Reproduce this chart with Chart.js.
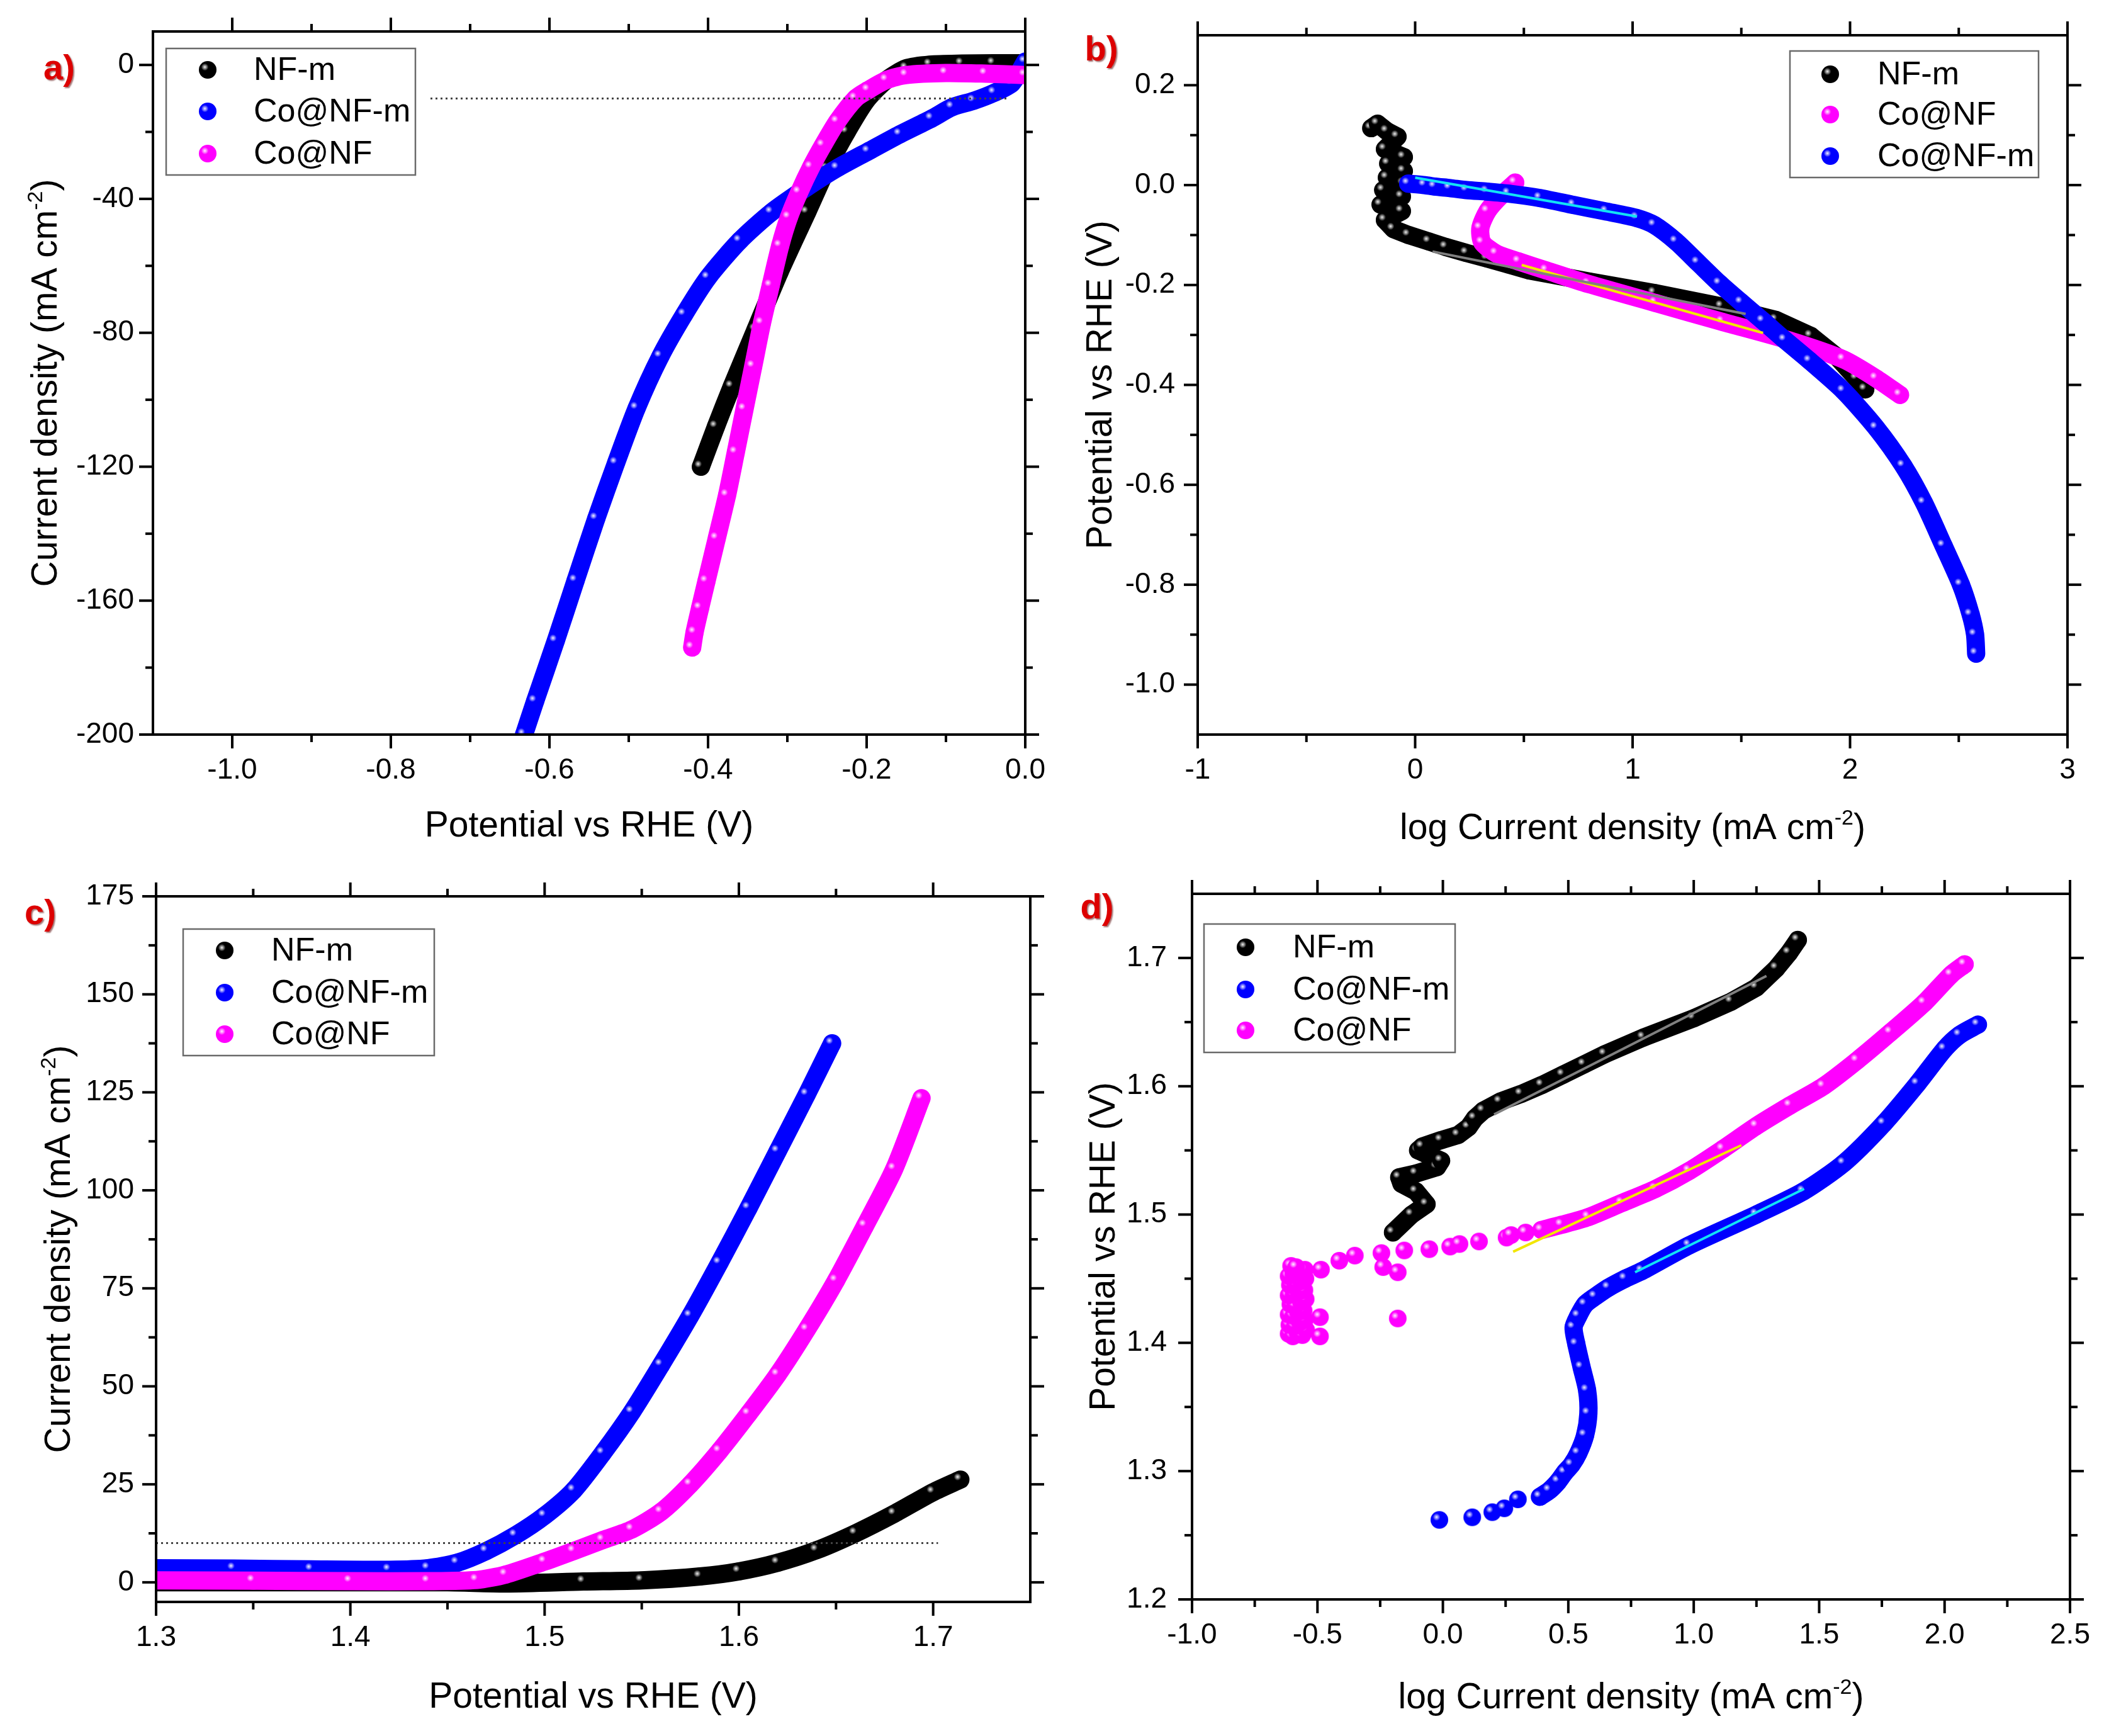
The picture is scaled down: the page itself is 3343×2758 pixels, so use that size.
<!DOCTYPE html>
<html><head><meta charset="utf-8">
<script src="https://cdn.jsdelivr.net/npm/chart.js@4.4.1/dist/chart.umd.min.js"></script>
<style>
html,body{margin:0;padding:0;background:#fff;}
#wrap{position:relative;width:3343px;height:2758px;background:#fff;overflow:hidden;}
canvas{position:absolute;}
</style></head>
<body><div id="wrap">
<canvas id="ca" width="1671" height="1379" style="left:0;top:0"></canvas>
<canvas id="cb" width="1672" height="1379" style="left:1671px;top:0"></canvas>
<canvas id="cc" width="1671" height="1379" style="left:0;top:1379px"></canvas>
<canvas id="cd" width="1672" height="1379" style="left:1671px;top:1379px"></canvas>
</div>
<script>
// ---------------- DATA ----------------
const seriesNames = ['NF-m', 'Co@NF-m', 'Co@NF'];

// Panel a) HER polarization: [potential V vs RHE, current density mA cm-2]
const aNFm = [[0.00,0.5],[-0.04,0.5],[-0.08,0.4],[-0.12,0.1],[-0.15,-1.0],[-0.175,-4.5],[-0.20,-10.5],[-0.225,-20],[-0.25,-31],[-0.275,-44],[-0.31,-62],[-0.34,-79],[-0.37,-96],[-0.39,-108],[-0.409,-120]];
const aCoNFm = [[0.0,1.0],[-0.017,-5.5],[-0.039,-8.3],[-0.065,-10.7],[-0.092,-12.6],[-0.118,-16],[-0.158,-20.7],[-0.198,-25.8],[-0.237,-30.8],[-0.275,-36.5],[-0.32,-44],[-0.36,-52.5],[-0.40,-63.5],[-0.43,-74.5],[-0.46,-87],[-0.49,-102.5],[-0.516,-118.9],[-0.541,-135.5],[-0.567,-154],[-0.592,-172],[-0.618,-190],[-0.632,-200]];
const aCoNF = [[0.00,-3.0],[-0.05,-2.6],[-0.10,-2.4],[-0.15,-3.0],[-0.175,-4.5],[-0.198,-7.5],[-0.214,-10.0],[-0.237,-16.9],[-0.255,-24],[-0.270,-30.5],[-0.285,-38],[-0.298,-45.5],[-0.309,-54],[-0.321,-65.9],[-0.332,-77.1],[-0.343,-90.0],[-0.354,-102.8],[-0.365,-115.7],[-0.376,-128.5],[-0.389,-141.4],[-0.402,-154.2],[-0.410,-162.2],[-0.417,-169.5],[-0.420,-174]];
const aRef10 = [[-0.75,-10],[-0.02,-10]];
const aXTicks = [-1.0,-0.8,-0.6,-0.4,-0.2,0.0];
const aXLabels = ['-1.0','-0.8','-0.6','-0.4','-0.2','0.0'];
const aXMinor = [-0.9,-0.7,-0.5,-0.3,-0.1];
const aYTicks = [-200,-160,-120,-80,-40,0];
const aYLabels = ['-200','-160','-120','-80','-40','0'];
const aYMinor = [-180,-140,-100,-60,-20];

// Panel b) HER Tafel: [log current density, potential V]
const bNFm = [[-0.202,0.114],[-0.173,0.123],[-0.13,0.108],[-0.081,0.097],[-0.139,0.072],[-0.052,0.056],[-0.124,0.043],[-0.052,0.028],[-0.130,0.015],[-0.052,0.003],[-0.147,-0.010],[-0.061,-0.023],[-0.159,-0.039],[-0.061,-0.052],[-0.139,-0.070],[-0.10,-0.088],[-0.03,-0.100],[0.064,-0.113],[0.142,-0.124],[0.237,-0.136],[0.332,-0.147],[0.43,-0.159],[0.526,-0.171],[0.80,-0.193],[1.10,-0.216],[1.41,-0.243],[1.66,-0.270],[1.82,-0.302],[1.94,-0.344],[2.03,-0.387],[2.07,-0.409]];
const bCoNF = [[0.46,0.005],[0.39,-0.023],[0.333,-0.052],[0.30,-0.086],[0.309,-0.115],[0.373,-0.137],[0.477,-0.153],[0.604,-0.171],[0.797,-0.198],[1.105,-0.236],[1.414,-0.274],[1.72,-0.311],[1.97,-0.349],[2.12,-0.387],[2.23,-0.42]];
const bCoNFm = [[-0.032,0.003],[0.044,0.0],[0.09,-0.003],[0.16,-0.006],[0.237,-0.01],[0.33,-0.013],[0.43,-0.017],[0.575,-0.026],[0.73,-0.040],[0.88,-0.053],[1.02,-0.066],[1.10,-0.080],[1.20,-0.113],[1.30,-0.155],[1.40,-0.197],[1.50,-0.235],[1.60,-0.272],[1.70,-0.31],[1.815,-0.352],[1.97,-0.412],[2.12,-0.486],[2.245,-0.562],[2.34,-0.636],[2.43,-0.722],[2.51,-0.80],[2.555,-0.86],[2.575,-0.90],[2.58,-0.938]];
const bFitNFm = [[0.08,-0.133],[1.52,-0.258]];
const bFitCoNF = [[0.49,-0.16],[1.60,-0.296]];
const bFitCoNFm = [[0.0,0.015],[1.02,-0.063]];
const bXTicks = [-1,0,1,2,3];
const bXLabels = ['-1','0','1','2','3'];
const bXMinor = [-0.5,0.5,1.5,2.5];
const bYTicks = [-1.0,-0.8,-0.6,-0.4,-0.2,0.0,0.2];
const bYLabels = ['-1.0','-0.8','-0.6','-0.4','-0.2','0.0','0.2'];
const bYMinor = [-0.9,-0.7,-0.5,-0.3,-0.1,0.1];

// Panel c) OER polarization: [potential V vs RHE, current density mA cm-2]
const cNFm = [[1.30,0.0],[1.45,0.0],[1.48,-0.3],[1.52,0.2],[1.55,0.5],[1.58,1.5],[1.60,2.8],[1.62,5.0],[1.64,8.2],[1.66,12.5],[1.68,17.5],[1.70,23.0],[1.714,26.2]];
const cCoNFm = [[1.30,3.6],[1.34,3.5],[1.38,3.3],[1.42,3.2],[1.44,3.6],[1.455,5.0],[1.47,8.0],[1.485,12.0],[1.50,17.0],[1.515,23.5],[1.53,33],[1.545,43.5],[1.56,55.5],[1.575,68],[1.59,81.5],[1.605,95.5],[1.62,110],[1.635,124.5],[1.648,137.5]];
const cCoNF = [[1.30,0.5],[1.35,0.4],[1.40,0.3],[1.44,0.3],[1.465,0.6],[1.48,2.0],[1.50,5.3],[1.515,8.0],[1.53,10.8],[1.545,13.5],[1.56,18.0],[1.575,25.0],[1.59,33.5],[1.605,43.0],[1.62,53.0],[1.635,64.5],[1.65,77.0],[1.665,91.0],[1.68,105.5],[1.694,123.5]];
const cRef10 = [[1.30,10],[1.7025,10]];
const cXTicks = [1.3,1.4,1.5,1.6,1.7];
const cXLabels = ['1.3','1.4','1.5','1.6','1.7'];
const cXMinor = [1.35,1.45,1.55,1.65];
const cYTicks = [0,25,50,75,100,125,150,175];
const cYLabels = ['0','25','50','75','100','125','150','175'];
const cYMinor = [12.5,37.5,62.5,87.5,112.5,137.5,162.5];

// Panel d) OER Tafel: [log current density, potential V]
const dNFm = [[-0.199,1.486],[-0.124,1.500],[-0.065,1.508],[-0.107,1.518],[-0.165,1.524],[-0.174,1.529],[-0.107,1.532],[-0.023,1.537],[-0.007,1.542],[-0.065,1.547],[-0.099,1.550],[-0.082,1.553],[-0.007,1.558],[0.061,1.562],[0.102,1.568],[0.127,1.575],[0.161,1.581],[0.228,1.588],[0.312,1.594],[0.395,1.601],[0.479,1.609],[0.563,1.617],[0.646,1.625],[0.80,1.638],[1.00,1.653],[1.15,1.666],[1.25,1.677],[1.33,1.692],[1.38,1.704],[1.415,1.714]];
const dCoNFmLow = [[-0.014,1.262],[0.117,1.264],[0.197,1.268],[0.245,1.271],[0.299,1.278],[0.387,1.280]];
const dCoNFm = [[0.387,1.280],[0.425,1.285],[0.46,1.292],[0.486,1.299],[0.513,1.305],[0.54,1.314],[0.567,1.328],[0.58,1.345],[0.575,1.363],[0.553,1.381],[0.532,1.399],[0.521,1.412],[0.54,1.421],[0.567,1.43],[0.607,1.436],[0.66,1.443],[0.727,1.45],[0.794,1.456],[0.982,1.476],[1.25,1.50],[1.437,1.518],[1.598,1.54],[1.758,1.571],[1.892,1.602],[2.0,1.629],[2.06,1.640],[2.133,1.648]];
const dCoNFLow = [[-0.615,1.407],[-0.598,1.405],[-0.58,1.408],[-0.56,1.406],[-0.545,1.41],[-0.612,1.414],[-0.59,1.413],[-0.57,1.416],[-0.55,1.418],[-0.615,1.422],[-0.596,1.421],[-0.578,1.424],[-0.555,1.425],[-0.608,1.43],[-0.588,1.429],[-0.566,1.432],[-0.547,1.434],[-0.615,1.437],[-0.595,1.438],[-0.575,1.44],[-0.552,1.441],[-0.61,1.445],[-0.588,1.446],[-0.565,1.448],[-0.548,1.45],[-0.615,1.452],[-0.596,1.454],[-0.572,1.455],[-0.55,1.457],[-0.605,1.46],[-0.585,1.459],[-0.486,1.457],[-0.49,1.420],[-0.49,1.405],[-0.413,1.464],[-0.351,1.468],[-0.245,1.470],[-0.238,1.459],[-0.18,1.455],[-0.18,1.419],[-0.154,1.472],[-0.054,1.473],[0.029,1.475],[0.066,1.477],[0.144,1.479],[0.254,1.482],[0.272,1.484],[0.33,1.486]];
const dCoNF = [[0.393,1.488],[0.473,1.492],[0.58,1.498],[0.714,1.509],[0.848,1.52],[0.982,1.534],[1.116,1.551],[1.25,1.569],[1.384,1.585],[1.517,1.60],[1.651,1.62],[1.785,1.642],[1.919,1.665],[2.026,1.687],[2.08,1.695]];
const dFitNFm = [[0.204,1.578],[1.29,1.686]];
const dFitCoNF = [[0.28,1.471],[1.19,1.554]];
const dFitCoNFm = [[0.766,1.455],[1.44,1.52]];
const dXTicks = [-1.0,-0.5,0.0,0.5,1.0,1.5,2.0,2.5];
const dXLabels = ['-1.0','-0.5','0.0','0.5','1.0','1.5','2.0','2.5'];
const dXMinor = [-0.75,-0.25,0.25,0.75,1.25,1.75,2.25];
const dYTicks = [1.2,1.3,1.4,1.5,1.6,1.7];
const dYLabels = ['1.2','1.3','1.4','1.5','1.6','1.7'];
const dYMinor = [1.25,1.35,1.45,1.55,1.65];

// titles
const titlePotential = [{t:'Potential vs RHE (V)'}];
const titleCurrent = [{t:'Current density (mA cm'},{t:'-2',sup:true},{t:')'}];
const titleLogCurrent = [{t:'log Current density (mA cm'},{t:'-2',sup:true},{t:')'}];

// ---------------- STYLE / HELPERS ----------------
const FONT = "'Liberation Sans', Arial, Helvetica, sans-serif";
const COL = {k:'#000000', b:'#0000ff', m:'#ff00ff'};
const R = 14;

function ball(color, r) {
  const c = document.createElement('canvas');
  const s = Math.ceil(r*2 + 2);
  c.width = s; c.height = s;
  const g = c.getContext('2d');
  const cx = s/2, cy = s/2;
  g.beginPath(); g.arc(cx, cy, r, 0, Math.PI*2); g.fillStyle = color; g.fill();
  const hx = cx - r*0.32, hy = cy - r*0.32;
  const grd = g.createRadialGradient(hx, hy, 0, hx, hy, r*0.42);
  grd.addColorStop(0, 'rgba(255,255,255,0.95)');
  grd.addColorStop(0.55, 'rgba(255,255,255,0.45)');
  grd.addColorStop(1, 'rgba(255,255,255,0)');
  g.fillStyle = grd; g.beginPath(); g.arc(cx, cy, r, 0, Math.PI*2); g.fill();
  return c;
}
const BALL = {k: ball(COL.k, R), b: ball(COL.b, R), m: ball(COL.m, R)};

function pts(a) { return a.map(p => ({x: p[0], y: p[1]})); }
function band(label, arr, key, order, tension) {
  return {label, data: pts(arr), showLine: true, borderColor: COL[key], backgroundColor: COL[key],
    borderWidth: 2*R + 1, borderJoinStyle: 'round', borderCapStyle: 'round', tension: tension,
    pointStyle: BALL[key], pointRadius: R, pointHoverRadius: R, pointBorderWidth: 0, order};
}
function dots(label, arr, key, order) {
  return {label, data: pts(arr), showLine: false, backgroundColor: COL[key], borderColor: COL[key],
    pointStyle: BALL[key], pointRadius: R, pointHoverRadius: R, pointBorderWidth: 0, order};
}
function seg(label, arr, color, width, dash, order) {
  return {label, data: pts(arr), showLine: true, borderColor: color, backgroundColor: color,
    borderWidth: width, borderDash: dash, pointRadius: 0, pointHoverRadius: 0, tension: 0, order};
}

function drawRich(ctx, parts, cx, cy, rot, size) {
  ctx.save();
  ctx.translate(cx, cy); ctx.rotate(rot);
  ctx.textBaseline = 'alphabetic'; ctx.textAlign = 'left';
  const sup = Math.round(size*0.6);
  let w = 0;
  const ws = parts.map(p => { ctx.font = (p.sup ? sup : size) + 'px ' + FONT; const m = ctx.measureText(p.t).width; w += m; return m; });
  let x = -w/2;
  const base = size*0.36;
  parts.forEach((p, i) => {
    ctx.font = (p.sup ? sup : size) + 'px ' + FONT;
    ctx.fillText(p.t, x, p.sup ? base - size*0.40 : base);
    x += ws[i];
  });
  ctx.restore();
}

function makeDecor(P) {
  return {
    id: 'decor' + P.id,
    afterDraw(chart) {
      const ctx = chart.ctx, a = chart.chartArea, xs = chart.scales.x, ys = chart.scales.y;
      ctx.save();
      ctx.strokeStyle = '#000'; ctx.lineWidth = 4; ctx.lineCap = 'butt';
      const tk = (x1, y1, x2, y2) => { ctx.beginPath(); ctx.moveTo(x1, y1); ctx.lineTo(x2, y2); ctx.stroke(); };
      const MAJ = 22, MIN = 12;
      P.xTicks.forEach(v => { const X = xs.getPixelForValue(v); tk(X, a.bottom, X, a.bottom + MAJ); tk(X, a.top, X, a.top - MAJ); });
      P.xMinor.forEach(v => { const X = xs.getPixelForValue(v); tk(X, a.bottom, X, a.bottom + MIN); tk(X, a.top, X, a.top - MIN); });
      P.yTicks.forEach(v => { const Y = ys.getPixelForValue(v); tk(a.left, Y, a.left - MAJ, Y); tk(a.right, Y, a.right + MAJ, Y); });
      P.yMinor.forEach(v => { const Y = ys.getPixelForValue(v); tk(a.left, Y, a.left - MIN, Y); tk(a.right, Y, a.right + MIN, Y); });
      ctx.strokeRect(a.left, a.top, a.right - a.left, a.bottom - a.top);
      // axis titles
      ctx.fillStyle = '#000';
      drawRich(ctx, P.xTitle, (a.left + a.right)/2, a.bottom + P.xTitleOff, 0, 57);
      drawRich(ctx, P.yTitle, a.left - P.yTitleOff, (a.top + a.bottom)/2, -Math.PI/2, 57);
      // legend
      const L = P.legend;
      ctx.fillStyle = '#fff';
      ctx.fillRect(L.x0, L.y0, L.x1 - L.x0, L.y1 - L.y0);
      ctx.strokeStyle = '#6a6a6a'; ctx.lineWidth = 2.5;
      ctx.strokeRect(L.x0, L.y0, L.x1 - L.x0, L.y1 - L.y0);
      ctx.font = '52px ' + FONT; ctx.textBaseline = 'middle'; ctx.textAlign = 'left'; ctx.fillStyle = '#000';
      L.items.forEach((it, i) => {
        const y = L.ys[i];
        const img = BALL[it.key];
        ctx.drawImage(img, L.mx - img.width/2, y - img.height/2);
        ctx.fillText(it.label, L.tx, y + 2);
      });
      // panel label
      ctx.font = 'bold 56px ' + FONT; ctx.textAlign = 'center'; ctx.textBaseline = 'middle';
      ctx.shadowColor = 'rgba(90,0,0,0.55)'; ctx.shadowOffsetX = 2; ctx.shadowOffsetY = 2; ctx.shadowBlur = 2;
      ctx.fillStyle = '#dd0000';
      ctx.fillText(P.tag, P.tagX, P.tagY);
      ctx.restore();
    }
  };
}

function makeChart(P) {
  new Chart(document.getElementById(P.id), {
    type: 'scatter',
    data: {datasets: P.datasets},
    options: {
      responsive: false, animation: false, devicePixelRatio: 1, events: [],
      layout: {padding: {left: 0, top: P.padT, right: P.padR, bottom: 0}},
      plugins: {legend: {display: false}, tooltip: {enabled: false}},
      scales: {
        x: {type: 'linear', position: 'bottom', min: P.xMin, max: P.xMax,
          grid: {display: false, drawTicks: false}, border: {display: false},
          afterBuildTicks: s => { s.ticks = P.xTicks.map(v => ({value: v})); },
          afterFit: s => { s.height = P.xH; s.paddingLeft = 0; s.paddingRight = 0; s.paddingTop = 0; s.paddingBottom = 0; },
          ticks: {autoSkip: false, maxRotation: 0, minRotation: 0, padding: P.xPad, color: '#000',
            font: {family: FONT, size: 46}, callback: (v, i) => P.xLabels[i]}},
        y: {type: 'linear', position: 'left', min: P.yMin, max: P.yMax,
          grid: {display: false, drawTicks: false}, border: {display: false},
          afterBuildTicks: s => { s.ticks = P.yTicks.map(v => ({value: v})); },
          afterFit: s => { s.width = P.yW; s.paddingLeft = 0; s.paddingRight = 0; s.paddingTop = 0; s.paddingBottom = 0; },
          ticks: {autoSkip: false, padding: P.yPad, color: '#000',
            font: {family: FONT, size: 46}, callback: (v, i) => P.yLabels[i]}}
      }
    },
    plugins: [makeDecor(P)]
  });
}

// ---------------- PANELS ----------------
makeChart({
  id: 'ca', xMin: -1.1, xMax: 0, yMin: -200, yMax: 10,
  yW: 243, padR: 42, padT: 50, xH: 212, xPad: 30, yPad: 30,
  xTicks: aXTicks, xLabels: aXLabels, xMinor: aXMinor, yTicks: aYTicks, yLabels: aYLabels, yMinor: aYMinor,
  xTitle: titlePotential, yTitle: titleCurrent, xTitleOff: 141, yTitleOff: 174,
  tag: 'a)', tagX: 94, tagY: 111,
  legend: {x0: 264, y0: 77, x1: 660, y1: 278, mx: 330, tx: 403, ys: [111, 177, 244],
    items: [{label: seriesNames[0], key: 'k'}, {label: seriesNames[1], key: 'b'}, {label: seriesNames[2], key: 'm'}]},
  datasets: [
    seg('ref', aRef10, '#444', 3, [3, 5], 0),
    band(seriesNames[2], aCoNF, 'm', 1, 0.25),
    band(seriesNames[1], aCoNFm, 'b', 2, 0.25),
    band(seriesNames[0], aNFm, 'k', 3, 0.25)
  ]
});

makeChart({
  id: 'cb', xMin: -1, xMax: 3, yMin: -1.1, yMax: 0.3,
  yW: 232, padR: 58, padT: 56, xH: 212, xPad: 30, yPad: 36,
  xTicks: bXTicks, xLabels: bXLabels, xMinor: bXMinor, yTicks: bYTicks, yLabels: bYLabels, yMinor: bYMinor,
  xTitle: titleLogCurrent, yTitle: titlePotential, xTitleOff: 145, yTitleOff: 158,
  tag: 'b)', tagX: 79, tagY: 81,
  legend: {x0: 1173, y0: 81, x1: 1568, y1: 282, mx: 1237, tx: 1312, ys: [118, 182, 248],
    items: [{label: seriesNames[0], key: 'k'}, {label: seriesNames[2], key: 'm'}, {label: seriesNames[1], key: 'b'}]},
  datasets: [
    seg('fit NF-m', bFitNFm, '#808080', 4, [], 0),
    seg('fit Co@NF', bFitCoNF, '#f2e600', 4, [], 0),
    seg('fit Co@NF-m', bFitCoNFm, '#12e2f5', 4, [], 0),
    band(seriesNames[1], bCoNFm, 'b', 1, 0.25),
    band(seriesNames[2], bCoNF, 'm', 2, 0.25),
    band(seriesNames[0], bNFm, 'k', 3, 0)
  ]
});

makeChart({
  id: 'cc', xMin: 1.3, xMax: 1.75, yMin: -5, yMax: 175,
  yW: 248, padR: 34, padT: 45, xH: 213, xPad: 30, yPad: 35,
  xTicks: cXTicks, xLabels: cXLabels, xMinor: cXMinor, yTicks: cYTicks, yLabels: cYLabels, yMinor: cYMinor,
  xTitle: titlePotential, yTitle: titleCurrent, xTitleOff: 147, yTitleOff: 158,
  tag: 'c)', tagX: 64, tagY: 74,
  legend: {x0: 291, y0: 97, x1: 690, y1: 298, mx: 357, tx: 431, ys: [131, 198, 264],
    items: [{label: seriesNames[0], key: 'k'}, {label: seriesNames[1], key: 'b'}, {label: seriesNames[2], key: 'm'}]},
  datasets: [
    seg('ref', cRef10, '#444', 3, [3, 5], 0),
    band(seriesNames[2], cCoNF, 'm', 1, 0.25),
    band(seriesNames[1], cCoNFm, 'b', 2, 0.25),
    band(seriesNames[0], cNFm, 'k', 3, 0.25)
  ]
});

makeChart({
  id: 'cd', xMin: -1.0, xMax: 2.5, yMin: 1.2, yMax: 1.75,
  yW: 223, padR: 54, padT: 41, xH: 217, xPad: 30, yPad: 40,
  xTicks: dXTicks, xLabels: dXLabels, xMinor: dXMinor, yTicks: dYTicks, yLabels: dYLabels, yMinor: dYMinor,
  xTitle: titleLogCurrent, yTitle: titlePotential, xTitleOff: 152, yTitleOff: 144,
  tag: 'd)', tagX: 72, tagY: 65,
  legend: {x0: 242, y0: 89, x1: 641, y1: 293, mx: 308, tx: 383, ys: [126, 193, 258],
    items: [{label: seriesNames[0], key: 'k'}, {label: seriesNames[1], key: 'b'}, {label: seriesNames[2], key: 'm'}]},
  datasets: [
    seg('fit NF-m', dFitNFm, '#808080', 4, [], 0),
    seg('fit Co@NF', dFitCoNF, '#f2e600', 4, [], 0),
    seg('fit Co@NF-m', dFitCoNFm, '#12e2f5', 4, [], 0),
    band(seriesNames[2], dCoNF, 'm', 1, 0.25),
    dots(seriesNames[2], dCoNFLow, 'm', 2),
    band(seriesNames[1], dCoNFm, 'b', 3, 0.25),
    dots(seriesNames[1], dCoNFmLow, 'b', 4),
    band(seriesNames[0], dNFm, 'k', 5, 0)
  ]
});
</script>
</body></html>
